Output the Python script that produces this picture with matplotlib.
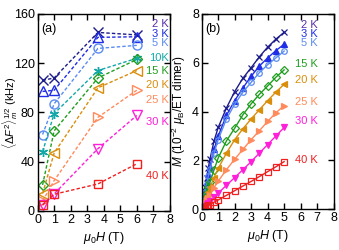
import matplotlib
matplotlib.use("Agg")
import matplotlib.pyplot as plt

plt.rcParams["font.family"] = ["Liberation Sans", "DejaVu Sans"]
plt.rcParams["mathtext.fontset"] = "custom"
plt.rcParams["mathtext.rm"] = "Liberation Sans"
plt.rcParams["mathtext.it"] = "Liberation Sans:italic"
plt.rcParams["mathtext.bf"] = "Liberation Sans:bold"

# =========================
# DATA
# =========================
temps_a = ["2 K", "3 K", "5 K", "10K", "15 K", "20 K", "25 K", "30 K", "40 K"]
field_a = [0.3, 1.0, 3.65, 6.0]
width_2K = [106, 108, 145, 143]
width_3K = [97, 98, 141, 141.5]
width_5K = [62, 87, 132, 134.5]
width_10K = [48, 79, 114, 124]
width_15K = [21, 65, 108, 123]
width_20K = [14, 47, 100, 114]
width_25K = [8, 24.5, 76, 98]
width_30K = [5, 13.7, 50.5, 77.5]
width_40K = [4.5, 13.4, 21.8, 38.2]

temps_b = ["2 K", "3 K", "5 K", "15 K", "20 K", "25 K", "30 K", "40 K"]
field_b = [0, 0.1, 0.2, 0.3, 0.4, 0.5, 0.75, 1.0, 1.5, 2.0, 2.5, 3.0, 3.5, 4.0, 4.5, 5.0]
mag_2K = [0, 0.45, 0.9, 1.3, 1.7, 2.05, 2.8, 3.35, 4.15, 4.82, 5.37, 5.8, 6.25, 6.64, 6.97, 7.25]
mag_3K = [0, 0.38, 0.75, 1.1, 1.45, 1.75, 2.45, 3.0, 3.85, 4.45, 4.97, 5.45, 5.87, 6.2, 6.5, 6.76]
mag_5K = [0, 0.35, 0.7, 1.02, 1.35, 1.63, 2.3, 2.85, 3.7, 4.3, 4.8, 5.2, 5.6, 5.92, 6.2, 6.48]
mag_15K = [0, 0.23, 0.46, 0.68, 0.9, 1.1, 1.62, 2.1, 2.8, 3.32, 3.87, 4.32, 4.71, 5.05, 5.41, 5.71]
mag_20K = [0, 0.18, 0.36, 0.54, 0.72, 0.9, 1.3, 1.67, 2.3, 2.85, 3.3, 3.7, 4.08, 4.45, 4.8, 5.12]
mag_25K = [0, 0.12, 0.24, 0.36, 0.48, 0.6, 0.88, 1.15, 1.62, 2.05, 2.45, 2.85, 3.22, 3.6, 3.95, 4.25]
mag_30K = [0, 0.07, 0.14, 0.2, 0.27, 0.34, 0.5, 0.66, 0.98, 1.3, 1.62, 1.95, 2.3, 2.65, 3.0, 3.35]
mag_40K = [0, 0.04, 0.08, 0.12, 0.16, 0.19, 0.29, 0.38, 0.57, 0.76, 0.95, 1.14, 1.34, 1.54, 1.74, 1.95]

# label positions (data coords)
label_y_a = [151.5, 144, 136.5, 124, 114, 102, 90, 72.5, 28.5]
label_y_b = [7.55, 7.17, 6.8, 5.95, 5.3, 4.38, 3.62, 2.02]

# =========================
# STYLES
# =========================
colors = {
    "2 K": "#1c1c8a", "3 K": "#1f2de6", "5 K": "#5b8cf2", "10K": "#12a8a8",
    "15 K": "#1f9e1f", "20 K": "#d98e0c", "25 K": "#ff8a5c", "30 K": "#ff1fd8",
    "40 K": "#f02020",
}
label_colors = dict(colors)
label_colors["2 K"] = "#5a2ca8"
markers = {
    "2 K": "x", "3 K": "^", "5 K": "o", "10K": (6, 2, 0), "15 K": "D",
    "20 K": "<", "25 K": ">", "30 K": "v", "40 K": "s",
}

fig = plt.figure(figsize=(3.39, 2.5), dpi=100)
ax1 = fig.add_axes([0.111, 0.157, 0.390, 0.787])
ax2 = fig.add_axes([0.595, 0.163, 0.389, 0.781])

# =========================
# (a) LINE WIDTH
# =========================
widths = [width_2K, width_3K, width_5K, width_10K, width_15K,
          width_20K, width_25K, width_30K, width_40K]
for t, w in zip(temps_a, widths):
    m = markers[t]
    ms = 6.5 if m not in ("D", "s") else 5.5
    ax1.plot(field_a, w, ls=(0, (2.5, 1.5)), lw=1.0, color=colors[t],
             marker=m, ms=ms, mfc="none", mec=colors[t], mew=1.0)
for t, y in zip(temps_a, label_y_a):
    ax1.text(7.92, y, t, color=label_colors[t], fontsize=8,
             ha="right", va="center")

ax1.set_xlim(0, 8)
ax1.set_ylim(0, 160)
ax1.set_xticks(range(0, 9))
ax1.set_yticks([0, 40, 80, 120, 160])
ax1.set_xlabel(r"$\mu_0H$ (T)", fontsize=9, labelpad=3)
ax1.set_ylabel(r"$\langle\Delta F^2\rangle_m^{1/2}$ (kHz)", fontsize=8)
ax1.yaxis.set_label_coords(-0.13, 0.5)
ax1.text(0.03, 0.955, "(a)", transform=ax1.transAxes, fontsize=9,
         ha="left", va="top")

# =========================
# (b) MAGNETIZATION
# =========================
mags = [mag_2K, mag_3K, mag_5K, mag_15K, mag_20K, mag_25K, mag_30K, mag_40K]
for t, mg in zip(temps_b, mags):
    m = markers[t]
    filled = m in ("^", "<", ">", "v")
    ax2.plot(field_b, mg, ls="-", lw=1.0, color=colors[t], marker=m, ms=4,
             mfc=colors[t] if filled else "none", mec=colors[t], mew=0.9)
for t, y in zip(temps_b, label_y_b):
    ax2.text(7.05, y, t, color=label_colors[t], fontsize=8,
             ha="right", va="center")

ax2.set_xlim(0, 8)
ax2.set_ylim(0, 8)
ax2.set_xticks(range(0, 9))
ax2.set_yticks([0, 2, 4, 6, 8])
ax2.set_xlabel(r"$\mu_0H$ (T)", fontsize=9, labelpad=3)
ax2.set_ylabel(r"$M$ (10$^{-2}$ $\mu_{\rm B}$/ET dimer)", fontsize=8.5)
ax2.yaxis.set_label_coords(-0.105, 0.5)
ax2.text(0.03, 0.955, "(b)", transform=ax2.transAxes, fontsize=9,
         ha="left", va="top")

for ax in (ax1, ax2):
    ax.tick_params(direction="in", top=True, right=True, length=4,
                   width=1, labelsize=9, pad=2)
    for s in ax.spines.values():
        s.set_linewidth(1)

fig.savefig("out.png", dpi=100)
